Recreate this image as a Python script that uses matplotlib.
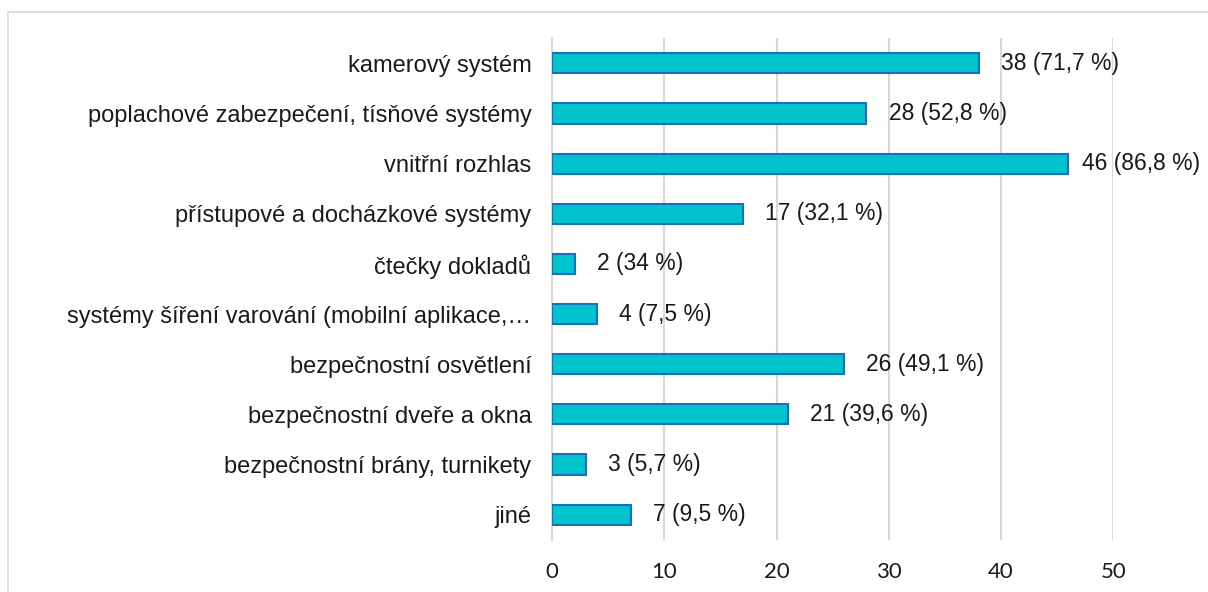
import matplotlib
matplotlib.use('Agg')
import matplotlib.pyplot as plt
from matplotlib.patches import Rectangle

# data
categories = [
    'kamerový systém',
    'poplachové zabezpečení, tísňové systémy',
    'vnitřní rozhlas',
    'přístupové a docházkové systémy',
    'čtečky dokladů',
    'systémy šíření varování (mobilní aplikace,…',
    'bezpečnostní osvětlení',
    'bezpečnostní dveře a okna',
    'bezpečnostní brány, turnikety',
    'jiné',
]
counts = [38, 28, 46, 17, 2, 4, 26, 21, 3, 7]
percents = ['71,7', '52,8', '86,8', '32,1', '34', '7,5', '49,1', '39,6', '5,7', '9,5']
x_ticks = [0, 10, 20, 30, 40, 50]

plt.rcParams['font.family'] = ['Liberation Sans', 'DejaVu Sans']

fig = plt.figure(figsize=(12.08, 5.92), dpi=100)
ax = fig.add_axes([0.4572, 0.0883, 0.4644, 0.847])

# outer chart border (cropped on the right and bottom)
fig.patches.append(Rectangle((0.0066, -0.5), 2, 0.5 + 0.9795, transform=fig.transFigure,
                             fill=False, edgecolor='#D9D9D9', linewidth=1.2))

y = list(range(len(categories)))
ax.barh(y, counts, height=0.4, color='#00C4CC', edgecolor='#1A6FC0', linewidth=1.5, zorder=3)

for yi, c, p in zip(y, counts, percents):
    # the longest bar's label is pulled in a bit so it stays inside the chart
    off = 10 if c == max(counts) else 16
    ax.annotate(f'{c} ({p} %)', xy=(c, yi), xytext=(off, 0), textcoords='offset points',
                va='center', ha='left', fontsize=16.5, color='#1A1A1A', annotation_clip=False)

ax.set_xlim(0, 50)
ax.set_ylim(len(categories) - 0.5, -0.5)
ax.set_yticks(y)
ax.set_yticklabels(categories, fontsize=17, color='#1A1A1A')
ax.set_xticks(x_ticks)
ax.set_xticklabels([str(t) for t in x_ticks], fontsize=16, family='Lato', color='#1A1A1A')
ax.tick_params(axis='y', length=0, pad=15)
ax.tick_params(axis='x', length=0, pad=16)

ax.grid(axis='x', color='#D9D9D9', linewidth=1.5, zorder=0)
ax.set_axisbelow(True)
for side in ['top', 'right', 'bottom']:
    ax.spines[side].set_visible(False)
ax.spines['left'].set_color('#D9D9D9')
ax.spines['left'].set_linewidth(1.5)

fig.savefig('out.png', dpi=100)
